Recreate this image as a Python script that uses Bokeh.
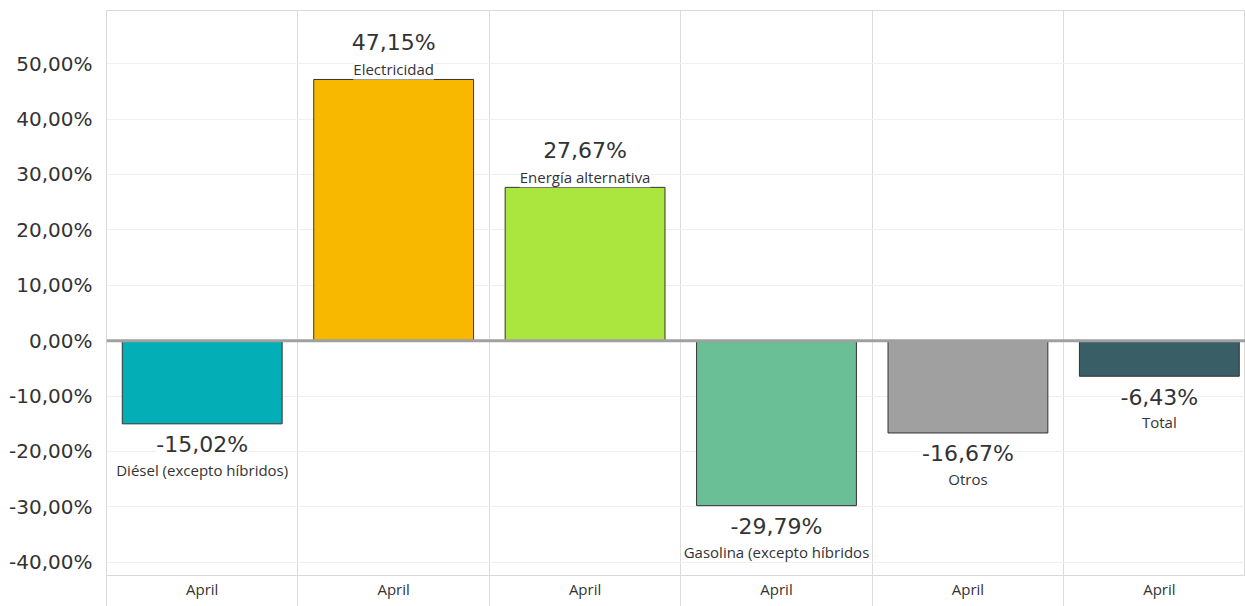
from bokeh.plotting import figure
from bokeh.models import ColumnDataSource, LabelSet, FixedTicker, Span, Range1d
from bokeh.core.properties import value
from bokeh.embed import file_html
from bokeh.resources import INLINE

categories = ["Diésel (excepto híbridos)", "Electricidad", "Energía alternativa",
              "Gasolina (excepto híbridos", "Otros", "Total"]
periods = ["April", "April", "April", "April", "April", "April"]
values = [-15.02, 47.15, 27.67, -29.79, -16.67, -6.43]
colors = ["#03AEB7", "#F9B800", "#ABE63F", "#6ABF97", "#A0A0A0", "#3A5E66"]
y_ticks = [-40, -30, -20, -10, 0, 10, 20, 30, 40, 50]
y_tick_labels = ["-40,00%", "-30,00%", "-20,00%", "-10,00%", "0,00%",
                 "10,00%", "20,00%", "30,00%", "40,00%", "50,00%"]

n = len(categories)
xs = [i + 0.5 for i in range(n)]
value_text = [f"{v:.2f}".replace(".", ",") + "%" for v in values]
val_off = [37 if v >= 0 else -21 for v in values]
cat_off = [10 if v >= 0 else -46 for v in values]

src = ColumnDataSource(dict(x=xs, value=values, color=colors, cat=categories,
                            vtext=value_text, voff=val_off, coff=cat_off))

p = figure(width=1245, height=606, x_range=Range1d(0, 5.95), y_range=Range1d(-42.4, 59.6),
           output_backend="svg", toolbar_location=None,
           min_border_left=106, min_border_top=10, min_border_right=0, min_border_bottom=31)
p.outline_line_color = "#d9d9d9"
p.background_fill_color = "white"
p.border_fill_color = "white"

p.xgrid.ticker = FixedTicker(ticks=list(range(n + 1)))
p.xgrid.grid_line_color = "#dcdcdc"
p.ygrid.ticker = FixedTicker(ticks=y_ticks)
p.ygrid.grid_line_color = "#efefef"

p.xaxis.ticker = FixedTicker(ticks=xs, minor_ticks=list(range(n + 1)))
p.xaxis.major_label_overrides = {x: lab for x, lab in zip(xs, periods)}
p.xaxis.major_tick_line_color = None
p.xaxis.major_tick_out = 0
p.xaxis.major_tick_in = 0
p.xaxis.minor_tick_in = 0
p.xaxis.minor_tick_out = 31
p.xaxis.minor_tick_line_color = "#dcdcdc"
p.xaxis.axis_line_color = None
p.xaxis.major_label_standoff = -28
p.xaxis.major_label_text_font = "Open Sans"
p.xaxis.major_label_text_font_size = "15px"
p.xaxis.major_label_text_color = "#333333"

p.yaxis.ticker = FixedTicker(ticks=y_ticks)
p.yaxis.major_label_overrides = {t: lab for t, lab in zip(y_ticks, y_tick_labels)}
p.yaxis.major_tick_line_color = None
p.yaxis.minor_tick_line_color = None
p.yaxis.axis_line_color = None
p.yaxis.major_label_standoff = 8
p.yaxis.major_label_text_font = "DejaVu Sans"
p.yaxis.major_label_text_font_size = "20px"
p.yaxis.major_label_text_color = "#333333"

p.vbar(x="x", top="value", bottom=0, width=0.835, fill_color="color",
       line_color="#333333", line_width=1, source=src)

p.add_layout(Span(location=0, dimension="width", line_color="#a0a0a0", line_width=3))

p.add_layout(LabelSet(x="x", y="value", text="vtext", y_offset="voff", source=src,
                      text_align="center", text_baseline="middle",
                      text_font=value("DejaVu Sans"), text_font_size="22px",
                      text_color="#333333", background_fill_color="white"))
p.add_layout(LabelSet(x="x", y="value", text="cat", y_offset="coff", source=src,
                      text_align="center", text_baseline="middle",
                      text_font=value("Open Sans"), text_font_size="15px",
                      text_color="#333333", background_fill_color="white"))

open("out.html", "w").write(file_html(p, INLINE))
